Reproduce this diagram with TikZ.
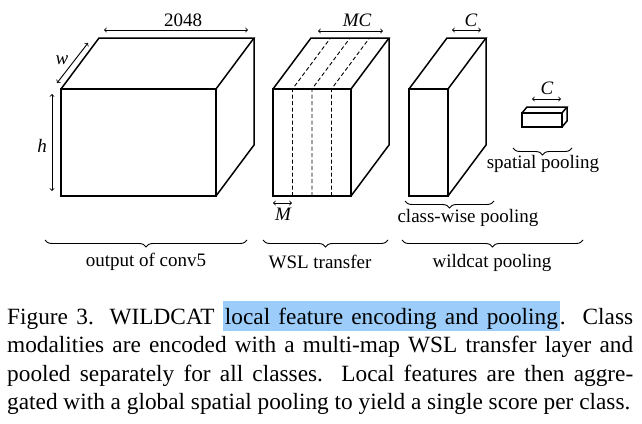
\documentclass[tikz,border=0pt]{standalone}
\usepackage{fontspec}
\setmainfont{Liberation Serif}
\usepackage{tikz}
\usetikzlibrary{calc,decorations.pathreplacing,positioning}
\definecolor{markBlau}{RGB}{155,204,250}
\begin{document}
\begin{tikzpicture}[x=1pt,y=-1pt,
  quader/.style={line width=1.5pt,line join=miter},
  mass/.style={line width=0.9pt,<->,>=to},
  klammer/.style={line width=0.9pt,decorate,decoration={brace,mirror,amplitude=7pt}},
  beschr/.style={font=\fontsize{19}{21}\selectfont,inner sep=0pt}]
\useasboundingbox (0,0) rectangle (642,423);
%Tiefe der Quader (schraeg nach hinten oben)
  \pgfmathsetmacro{\tx}{38}
  \pgfmathsetmacro{\ty}{51}
%Quader: links/oben/rechts/unten der Vorderseite
\foreach \xa/\ya/\xb/\yb in {61/89/216/196, 273/89/351/196, 409/89/448/196}{
\draw[quader] (\xa,\ya) rectangle (\xb,\yb);
\draw[quader] (\xa,\ya) -- ++(\tx,-\ty) -- ++(\xb-\xa,0) -- (\xb,\ya);
\draw[quader] (\xb+\tx,\ya-\ty) -- ++(0,\yb-\ya) -- (\xb,\yb);
}
%kleiner Quader
\draw[quader] (522,113) rectangle (562,127);
\draw[quader] (522,113) -- ++(5,-6) -- ++(40,0) -- (562,113);
\draw[quader] (567,107) -- ++(0,14) -- (562,127);
%gestrichelte Trennlinien
\foreach \k in {1,2,3}{
\draw[line width=0.9pt,dash pattern=on 4pt off 2.5pt] (273+\k*19.5,196) -- ++(0,-107) -- ++(\tx,-\ty);
}
%Masspfeile
\draw[mass] (104,30) -- (248,30);
\node[beschr] (kanal) at (183,20) {2048};
\draw[mass] (88,43) -- (57,83);
\node[beschr] (breite) at (62,60) {\itshape w};
\draw[mass] (52,94) -- (52,191);
\node[beschr] (hoehe) at (42,146) {\itshape h};
\draw[mass] (318,31) -- (383,31);
\node[beschr] (mc) at (357,20) {\itshape MC};
\draw[mass] (273,203) -- (292,203);
\node[beschr] (mm) at (283,214) {\itshape M};
\draw[mass] (452,30) -- (481,30);
\node[beschr] (cklasse) at (471,20) {\itshape C};
\draw[mass] (532,99) -- (561,99);
\node[beschr] (craum) at (547,88) {\itshape C};
%Klammern
\draw[klammer] (45,240) -- (247,240);
\node[beschr] (conv) at (146,262) {output of conv5};
\draw[klammer] (263,240) -- (388,240);
\node[beschr] (wsl) at (320,262) {WSL transfer};
\draw[klammer] (402,240) -- (583,240);
\node[beschr] (wildcat) at (492,263) {wildcat pooling};
\draw[klammer] (405,201) -- (494,201);
\node[beschr] (klasse) at (468,218) {class-wise pooling};
\draw[klammer] (513,148) -- (572,148);
\node[beschr] (raum) at (543,164) {spatial pooling};
%Bildunterschrift
\node[anchor=north west,inner sep=0pt,text width=626pt,align=justify,
  font=\fontsize{23.3}{28.5}\selectfont] (unterschrift) at (7,301)
  {Figure 3. WILDCAT {\setlength{\fboxsep}{2pt}\colorbox{markBlau}{\rule[-3pt]{0pt}{24pt}\makebox[333pt][s]{local feature encoding and pooling}}}.\ \ Class\linebreak
   modalities are encoded with a multi-map WSL transfer layer and\linebreak
   pooled separately for all classes.\ \ Local features are then aggre-\linebreak
   gated with a global spatial pooling to yield a single score per class.};
\end{tikzpicture}
\end{document}
